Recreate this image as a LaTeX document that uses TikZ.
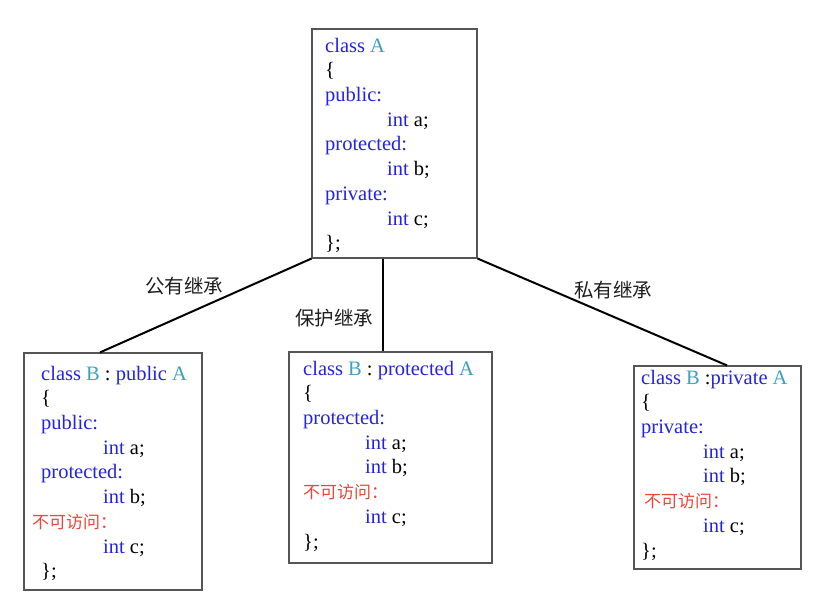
\documentclass[tikz,border=0pt]{standalone}
\usepackage{fontspec}
\setmainfont{Liberation Serif}
\newfontfamily\cjk{Noto Sans CJK SC}
\usetikzlibrary{calc}
\definecolor{kwblue}{RGB}{35,35,225}
\definecolor{clsteal}{RGB}{60,160,190}
\definecolor{nored}{RGB}{235,70,55}
\definecolor{boxgray}{RGB}{85,85,85}
\definecolor{lblgray}{RGB}{30,30,30}
\newcommand\kw[1]{\textcolor{kwblue}{#1}}
\newcommand\cl[1]{\textcolor{clsteal}{#1}}
\newcommand\ind{\hspace*{62pt}}
\newcommand\nv{{\cjk\fontsize{17}{24.7}\selectfont\textcolor{nored}{不可访问：}}}
\begin{document}
\begin{tikzpicture}[x=1pt,y=-1pt,
  box/.style={draw=boxgray,line width=1.1pt,inner sep=0pt,fill=none},
  code/.style={anchor=north west,inner sep=0pt,align=left,
    font=\fontsize{20.5}{24.7}\selectfont},
  conn/.style={draw=black,line width=2pt},
  lbl/.style={inner sep=0pt,text=lblgray,font=\cjk\fontsize{19.5}{22}\selectfont}]
\useasboundingbox (0,0) rectangle (824,608);
\fill[white] (0,0) rectangle (824,608);
% boxes
\node[box,minimum width=165pt,minimum height=229pt] (A)  at (394.5,143.5) {};
\node[box,minimum width=178pt,minimum height=237pt] (B1) at (113,471.5) {};
\node[box,minimum width=203pt,minimum height=211pt] (B2) at (390.5,457.5) {};
\node[box,minimum width=167pt,minimum height=203pt] (B3) at (717.5,467.5) {};
% texts
\node[code] (tA) at (325,34.7) {%
\strut\kw{class} \cl{A}\\
\strut\{\\
\strut\kw{public:}\\
\strut\ind\kw{int} a;\\
\strut\kw{protected:}\\
\strut\ind\kw{int} b;\\
\strut\kw{private:}\\
\strut\ind\kw{int} c;\\
\strut\};};
\node[code] (tB1) at (41,362.7) {%
\strut\kw{class} \cl{B} : \kw{public} \cl{A}\\
\strut\{\\
\strut\kw{public:}\\
\strut\ind\kw{int} a;\\
\strut\kw{protected:}\\
\strut\ind\kw{int} b;\\
\strut\hspace*{-9pt}\nv\\
\strut\ind\kw{int} c;\\
\strut\};};
\node[code] (tB2) at (303,357.7) {%
\strut\kw{class} \cl{B} : \kw{protected} \cl{A}\\
\strut\{\\
\strut\kw{protected:}\\
\strut\ind\kw{int} a;\\
\strut\ind\kw{int} b;\\
\strut\nv\\
\strut\ind\kw{int} c;\\
\strut\};};
\node[code] (tB3) at (641,366.7) {%
\strut\kw{class} \cl{B} :\kw{private} \cl{A}\\
\strut\{\\
\strut\kw{private:}\\
\strut\ind\kw{int} a;\\
\strut\ind\kw{int} b;\\
\strut\hspace*{3pt}\nv\\
\strut\ind\kw{int} c;\\
\strut\};};
% connectors
\coordinate (mA) at ($(A.south west)!0.43!(A.south east)$);
\draw[conn] (A.south west) -- ($(B1.north west)!0.427!(B1.north east)$);
\draw[conn] (mA) -- (mA |- B2.north);
\draw[conn] (A.south east) -- ($(B3.north west)!0.557!(B3.north east)$);
% labels
\node[lbl] (lpub) at (184,286) {公有继承};
\node[lbl] (lpro) at (334,318) {保护继承};
\node[lbl] (lpri) at (613,290) {私有继承};
\end{tikzpicture}
\end{document}
